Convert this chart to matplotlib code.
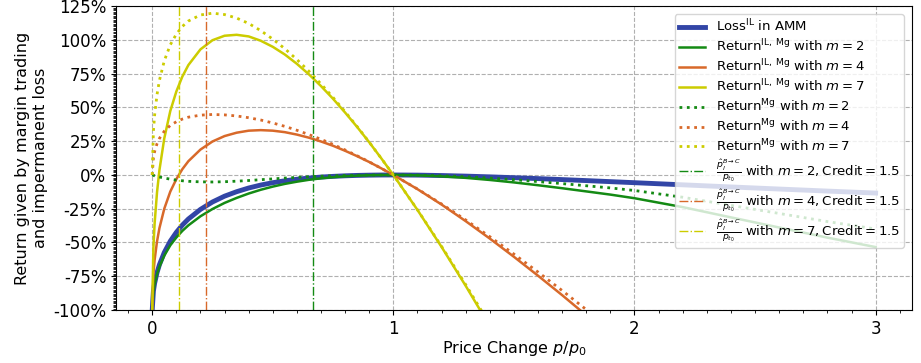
import numpy as np
import matplotlib
matplotlib.use('Agg')
import matplotlib.pyplot as plt
from matplotlib.ticker import MultipleLocator, FuncFormatter

# price ratio p/p0 sample points
r_full = [0, 0.005, 0.01, 0.02, 0.03, 0.05, 0.075, 0.1, 0.125, 0.15, 0.2, 0.25, 0.3, 0.35,
          0.4, 0.45, 0.5, 0.55, 0.6, 0.65, 0.7, 0.75, 0.8, 0.85, 0.9, 0.95, 1.0,
          1.1, 1.2, 1.3, 1.4, 1.5, 1.6, 1.7, 1.8, 1.9, 2.0, 2.2, 2.4, 2.6, 2.8, 3.0]
r_m4 = r_full[:36]   # up to 1.9
r_m7 = r_full[:31]   # up to 1.4

# returns in %
loss_il = [-100, -85.9, -80.2, -72.3, -66.4, -57.4, -49.0, -42.5, -37.1, -32.6, -25.5, -20.0, -15.7, -12.4,
           -9.65, -7.47, -5.72, -4.31, -3.18, -2.28, -1.57, -1.03, -0.62, -0.33, -0.14, -0.03, 0,
           -0.11, -0.42, -0.85, -1.40, -2.02, -2.70, -3.42, -4.17, -4.94, -5.72, -7.30, -8.87, -10.42, -11.93, -13.40]

ret_il_mg2 = [-100, -86.2, -80.8, -73.4, -67.9, -59.7, -52.1, -46.3, -41.4, -37.3, -30.6, -25.2, -20.7, -17.0,
              -13.75, -10.97, -8.62, -6.61, -4.98, -3.58, -2.47, -1.63, -0.97, -0.53, -0.22, -0.05, 0,
              -0.26, -1.02, -2.15, -3.70, -5.52, -7.60, -9.82, -12.17, -14.54, -17.22, -23.8, -31.4, -38.9, -46.4, -53.4]
ret_il_mg4 = [-100, -73.1, -62.8, -49.1, -39.3, -25.0, -12.3, -3.1, 4.3, 10.2, 18.8, 24.8, 28.8, 31.3,
              32.8, 33.2, 32.8, 31.7, 29.9, 27.6, 24.8, 21.6, 17.9, 13.9, 9.6, 4.9, 0,
              -10.5, -21.9, -34.2, -47.1, -60.6, -74.6, -89.0, -103.9, -118.8]
ret_il_mg7 = [-100, -53.4, -35.8, -12.7, 3.7, 27.1, 47.4, 61.8, 72.9, 81.4, 93.0, 99.8, 103.1, 103.8,
              102.6, 99.4, 94.9, 89.2, 82.3, 74.5, 65.8, 56.4, 46.2, 35.5, 24.2, 12.3, 0,
              -25.9, -53.3, -82.1, -112.1]

ret_mg2 = [0, -0.3, -0.6, -1.1, -1.5, -2.3, -3.1, -3.8, -4.3, -4.7, -5.1, -5.2, -5.0, -4.6,
           -4.1, -3.5, -2.9, -2.3, -1.8, -1.3, -0.9, -0.6, -0.35, -0.2, -0.08, -0.02, 0,
           -0.15, -0.6, -1.3, -2.3, -3.5, -4.9, -6.4, -8.0, -9.6, -11.5, -16.5, -22.5, -28.5, -34.5, -40.0]
ret_mg4 = [0, 12.8, 17.4, 23.2, 27.1, 32.4, 36.7, 39.4, 41.4, 42.8, 44.3, 44.8, 44.5, 43.7,
           42.4, 40.7, 38.5, 36.0, 33.1, 29.9, 26.4, 22.6, 18.5, 14.2, 9.7, 4.9, 0,
           -10.4, -21.5, -33.3, -45.7, -58.6, -71.9, -85.6, -99.7, -113.9]
ret_mg7 = [0, 32.5, 44.4, 59.6, 70.1, 84.5, 96.4, 104.3, 110.0, 114.0, 118.5, 119.8, 118.8, 116.2,
           112.2, 106.9, 100.6, 93.5, 85.5, 76.8, 67.4, 57.4, 46.8, 35.8, 24.3, 12.3, 0,
           -25.8, -52.9, -81.2, -110.7]

# liquidation price ratios, Credit = 1.5
liq_m = [2, 4, 7]
liq_ratio = [0.667, 0.222, 0.111]

c_blue = '#3245a6'
c_green = '#148a14'
c_orange = '#d8692a'
c_yellow = '#cccc00'
cols = [c_green, c_orange, c_yellow]

fig = plt.figure(figsize=(9.21, 3.63), dpi=100)
ax = fig.add_axes([0.126, 0.146, 0.864, 0.837])

ax.plot(r_full, loss_il, color=c_blue, lw=3.5, label=r'Loss$^{\mathrm{IL}}$ in AMM')
ax.plot(r_full, ret_il_mg2, color=c_green, lw=1.8, label=r'Return$^{\mathrm{IL,\,Mg}}$ with $m=2$')
ax.plot(r_m4, ret_il_mg4, color=c_orange, lw=1.8, label=r'Return$^{\mathrm{IL,\,Mg}}$ with $m=4$')
ax.plot(r_m7, ret_il_mg7, color=c_yellow, lw=1.8, label=r'Return$^{\mathrm{IL,\,Mg}}$ with $m=7$')
ax.plot(r_full, ret_mg2, color=c_green, lw=2, ls=':', label=r'Return$^{\mathrm{Mg}}$ with $m=2$')
ax.plot(r_m4, ret_mg4, color=c_orange, lw=2, ls=':', label=r'Return$^{\mathrm{Mg}}$ with $m=4$')
ax.plot(r_m7, ret_mg7, color=c_yellow, lw=2, ls=':', label=r'Return$^{\mathrm{Mg}}$ with $m=7$')
for m, x, c in zip(liq_m, liq_ratio, cols):
    ax.axvline(x, color=c, lw=1, ls='-.',
               label=r'$\frac{\hat{p}_l^{B\rightarrow C}}{p_{t_0}}$ with $m=%d, \mathrm{Credit}=1.5$' % m)

ax.set_xlim(-0.15, 3.15)
ax.set_ylim(-100, 125)
ax.xaxis.set_major_locator(MultipleLocator(1))
ax.xaxis.set_minor_locator(MultipleLocator(0.1))
ax.yaxis.set_major_locator(MultipleLocator(25))
ax.yaxis.set_minor_locator(MultipleLocator(1))
ax.yaxis.set_major_formatter(FuncFormatter(lambda v, p: '%d%%' % v))
ax.tick_params(axis='both', labelsize=12)
ax.tick_params(axis='y', which='minor', length=2.5)
ax.grid(True, which='major', ls='--', color='#b0b0b0', lw=0.8)
ax.set_xlabel(r'Price Change $p/p_0$', fontsize=11.5, labelpad=1)
ax.set_ylabel('Return given by margin trading\nand impermanent loss', fontsize=11.5)
ax.legend(loc='upper right', fontsize=9.5, labelspacing=0.25, borderpad=0.3, borderaxespad=0.6)

fig.savefig('out.png', dpi=100)
